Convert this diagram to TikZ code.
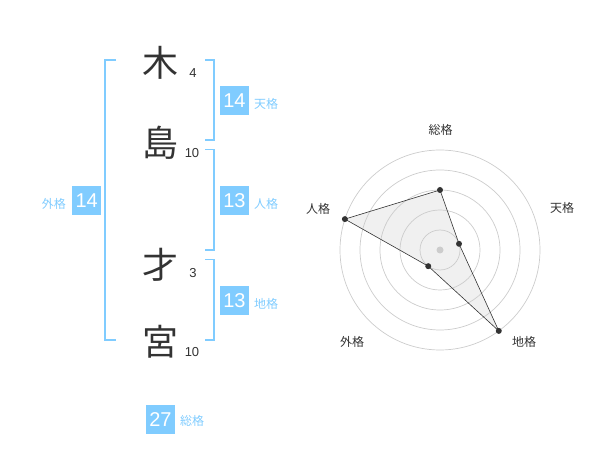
\documentclass[tikz,border=0pt]{standalone}
\usepackage{fontspec}
\usetikzlibrary{calc}
\setmainfont{Liberation Sans}
\newfontfamily\cjk{Noto Sans CJK JP}
\definecolor{kblue}{HTML}{80CCFF}
\definecolor{kdark}{HTML}{333333}
\definecolor{kgrid}{HTML}{CCCCCC}
\definecolor{kfill}{HTML}{F0F0F0}
\begin{document}
\begin{tikzpicture}[x=1pt,y=-1pt,
  bigchar/.style={font=\cjk\fontsize{36}{36}\selectfont, text=kdark, inner sep=0pt},
  strokes/.style={font=\fontsize{13}{13}\selectfont, text=kdark, inner sep=0pt},
  valbox/.style={fill=kblue, text=white, minimum width=29pt, minimum height=29pt, inner sep=0pt, font=\fontsize{20}{20}\selectfont},
  kaku/.style={font=\cjk\fontsize{12}{12}\selectfont, text=kblue, inner sep=0pt},
  bracket/.style={draw=kblue, line width=1.6pt},
  grid/.style={draw=kgrid, line width=0.7pt},
  axlabel/.style={font=\cjk\fontsize{12}{12}\selectfont, text=kdark, inner sep=0pt},
  dot/.style={circle, fill=kdark, inner sep=0pt, minimum size=6pt}]
\useasboundingbox (0,0) rectangle (600,470);
% characters
\node[bigchar] (c1) at (160,63) {木};
\node[bigchar] (c2) at (160,143) {島};
\node[bigchar] (c3) at (160,265) {才};
\node[bigchar] (c4) at (160,342) {宮};
\node[strokes] (s1) at (193,73) {4};
\node[strokes] (s2) at (192,153) {10};
\node[strokes] (s3) at (193,273) {3};
\node[strokes] (s4) at (192,352) {10};
% brackets
\draw[bracket] (116,60) -- (105,60) -- (105,340) -- (116,340);
\draw[bracket] (205,60) -- (214,60) -- (214,140) -- (205,140);
\draw[bracket] (205,149.5) -- (214,149.5) -- (214,250) -- (205,250);
\draw[bracket] (205,259.5) -- (214,259.5) -- (214,340) -- (205,340);
% values
\node[valbox] (ten) at (234.5,100.5) {14};
\node[kaku, anchor=west] (tenl) at (254,104) {天格};
\node[valbox] (jin) at (234.5,200.5) {13};
\node[kaku, anchor=west] (jinl) at (254,204) {人格};
\node[valbox] (chi) at (234.5,300.5) {13};
\node[kaku, anchor=west] (chil) at (254,304) {地格};
\node[valbox] (gai) at (86.7,200.5) {14};
\node[kaku, anchor=east] (gail) at (66,204) {外格};
\node[valbox] (sou) at (160.5,419.5) {27};
\node[kaku, anchor=west] (soul) at (180,421) {総格};
% radar
\coordinate (O) at (440,250);
\coordinate (pS) at ($(O)+(0,-60)$);
\coordinate (pT) at ($(O)+({20*cos(18)},{-20*sin(18)})$);
\coordinate (pC) at ($(O)+({100*cos(-54)},{-100*sin(-54)})$);
\coordinate (pG) at ($(O)+({20*cos(-126)},{-20*sin(-126)})$);
\coordinate (pJ) at ($(O)+({100*cos(162)},{-100*sin(162)})$);
\fill[kfill] (pS) -- (pT) -- (pC) -- (pG) -- (pJ) -- cycle;
\foreach \r in {20,40,60,80,100} \draw[grid] (O) circle[radius=\r];
\draw[kdark, line width=0.6pt] (pS) -- (pT) -- (pC) -- (pG) -- (pJ) -- cycle;
\fill[kgrid] (O) circle[radius=3.5];
\foreach \p in {pS,pT,pC,pG,pJ} \node[dot] at (\p) {};
\node[axlabel] (lS) at (440.7,130) {総格};
\node[axlabel] (lT) at (562,208) {天格};
\node[axlabel] (lC) at (524,342) {地格};
\node[axlabel] (lG) at (352,342) {外格};
\node[axlabel] (lJ) at (318,209) {人格};
\end{tikzpicture}
\end{document}
